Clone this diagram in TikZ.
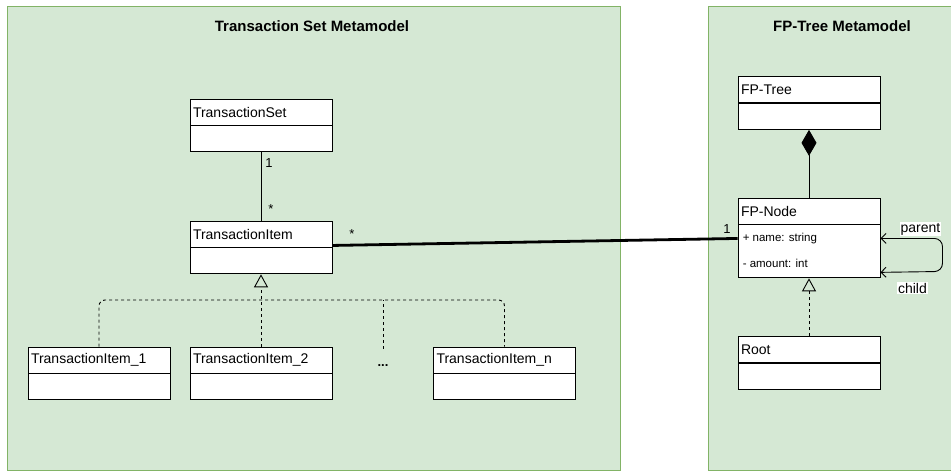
\documentclass[tikz,border=0pt]{standalone}
\usepackage{fontspec}
\setmainfont{Liberation Sans}
\usetikzlibrary{arrows.meta,positioning}
\definecolor{panelfill}{HTML}{D5E8D4}
\definecolor{paneldraw}{HTML}{82B366}

\begin{document}
\begin{tikzpicture}[x=1pt,y=-1pt,
  node distance=0pt,
  panel/.style={draw=paneldraw,fill=panelfill,line width=0.8pt},
  title/.style={font=\fontsize{15}{18}\selectfont\bfseries},
  cname/.style={draw,fill=white,line width=0.9pt,minimum height=26pt,text width=136pt,inner xsep=3pt,inner ysep=0pt,align=left,font=\fontsize{14}{16}\selectfont},
  cbody/.style={draw,fill=white,line width=0.9pt,minimum width=142pt,minimum height=26pt,inner sep=0pt},
  attr/.style={font=\fontsize{11.5}{14}\selectfont,inner sep=0pt,anchor=west},
  mult/.style={font=\fontsize{13}{15}\selectfont,inner sep=1pt},
  lbl/.style={font=\fontsize{14}{16}\selectfont,fill=white,inner sep=1pt},
  link/.style={line width=0.9pt},
  assoc/.style={line width=2.8pt},
  realize/.style={line width=0.9pt,dash pattern=on 3pt off 3pt},
  gen/.style={-{Triangle[open,length=13pt,width=14pt,line width=0.9pt]}},
  selfref/.style={line width=0.9pt,rounded corners=8pt,{Straight Barb[length=5pt,width=10pt]}-{Straight Barb[length=5pt,width=10pt]}}
]
  \fill[white] (0,0) rectangle (951,472);
  \useasboundingbox (0,0) rectangle (951,472);

  % the two metamodel panels
  \draw[panel] (7,6) rectangle (620,470);
  \draw[panel] (708,6) rectangle (960,470);
  \node[title] (tstitle) at (312,26) {Transaction Set Metamodel};
  \node[title] (fptitle) at (842,26) {FP-Tree Metamodel};

  % transaction set classes
  \node[cname] (tsname) at (261,112) {TransactionSet};
  \node[cbody,below=of tsname] (tsbody) {};
  \node[cname] (tiname) at (261,234) {TransactionItem};
  \node[cbody,below=of tiname] (tibody) {};

  \node[cname] (ti1name) at (99,360) {TransactionItem\_1};
  \node[cbody,below=of ti1name] (ti1body) {};
  \node[cname] (ti2name) at (261,360) {TransactionItem\_2};
  \node[cbody,below=of ti2name] (ti2body) {};
  \node[font=\fontsize{13}{15}\selectfont\bfseries,inner sep=0pt,minimum height=34pt] (dots) at (383,366) {...};
  \node[cname] (tinname) at (504.5,360) {TransactionItem\_n};
  \node[cbody,below=of tinname] (tinbody) {};

  % fp-tree classes
  \node[cname] (fptname) at (809,89.5) {FP-Tree};
  \node[cbody,below=of fptname] (fptbody) {};
  \node[cname] (fpnname) at (809,211) {FP-Node};
  \node[cbody,below=of fpnname,minimum height=53pt] (fpbody) {};
  \node[attr] (attname) at ([xshift=5pt,yshift=-14pt]fpbody.north west) {+ name: string};
  \node[attr] (attamount) at ([xshift=5pt,yshift=-39pt]fpbody.north west) {- amount: int};
  \node[cname] (rootname) at (809,349.5) {Root};
  \node[cbody,below=of rootname] (rootbody) {};

  % connectors
  \draw[link] (tsbody.south) -- (tiname.north);
  \node[mult] (tsone) at (269,163) {1};
  \node[mult] (tsmany) at (271,209) {*};

  \coordinate (bus) at (261,300);
  \draw[realize,gen] (ti2name.north) -- (tibody.south);
  \draw[realize,rounded corners=6pt] (ti1name.north) |- (bus) -| (tinname.north);
  \draw[realize] (dots.north) -- (dots.north |- bus);

  \draw[assoc] ([yshift=2pt]tiname.south east) -- ([yshift=-14pt]fpbody.north west);
  \node[mult] (timany) at (352,234) {*};
  \node[mult] (fpone) at (727,229) {1};

  \draw[link,{Diamond[length=26pt,width=15pt]}-] (fptbody.south) -- (fpnname.north);
  \draw[realize,gen] (rootname.north) -- (fpbody.south);

  \draw[selfref] ([yshift=-14pt]fpbody.north east) -- ++(62,0) -- ++(0,33) -- ([yshift=6pt]fpbody.south east);
  \node[lbl] (parentlbl) at ([xshift=40pt,yshift=-5pt]fpbody.north east) {parent};
  \node[lbl] (childlbl) at ([xshift=32pt,yshift=-10pt]fpbody.south east) {child};
\end{tikzpicture}
\end{document}
